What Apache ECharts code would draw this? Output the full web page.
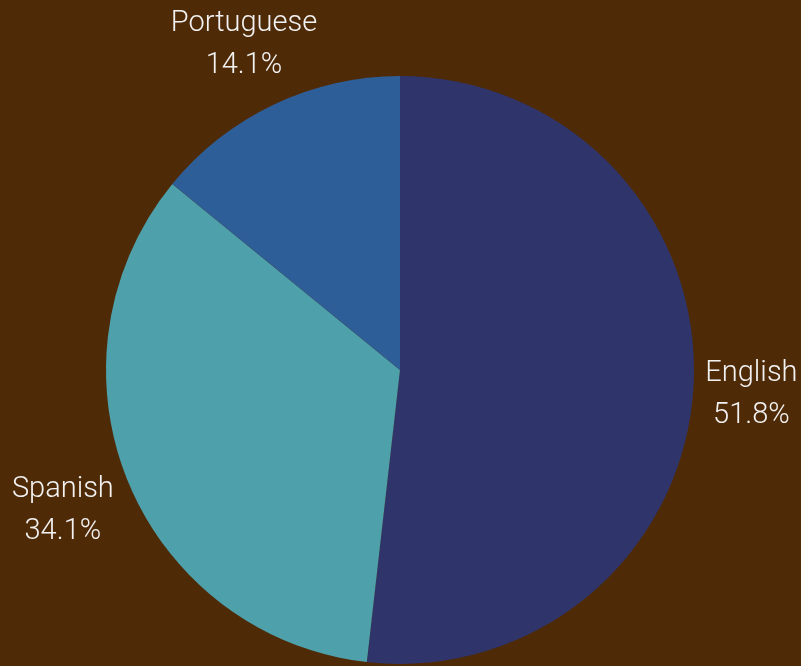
<!DOCTYPE html>
<html>
<head>
<meta charset="utf-8">
<script src="https://cdn.jsdelivr.net/npm/echarts@6/dist/echarts.min.js"></script>
<style>
  html, body { margin: 0; padding: 0; background: #4F2A07; }
  #chart { width: 801px; height: 666px; }
</style>
</head>
<body>
<div id="chart"></div>
<script>
// Language share of speakers
const languages = ['English', 'Spanish', 'Portuguese'];
const shares = [51.8, 34.1, 14.1];
const sliceColors = ['#2F356B', '#4EA0AB', '#2E5E98'];

const pieData = languages.map((name, i) => ({ name, value: shares[i] }));

// per-label nudges so the centred text sits just clear of the rim
const labelPadding = {
  English: [0, 24, 0, 0],
  Spanish: [0, 0, 0, 0],
  Portuguese: [0, 0, 0, 0]
};

const chart = echarts.init(document.getElementById('chart'));
chart.setOption({
  backgroundColor: '#4F2A07',
  animation: false,
  color: sliceColors,
  series: [
    {
      type: 'pie',
      center: [400, 370],
      radius: [0, 294],
      startAngle: 90,
      clockwise: true,
      data: pieData,
      label: { show: false },
      labelLine: { show: false },
      itemStyle: { borderWidth: 0 },
      emphasis: { disabled: true }
    },
    {
      // transparent ring that carries the centred labels outside the pie
      type: 'pie',
      center: [400, 374],
      radius: [330, 392],
      startAngle: 90,
      clockwise: true,
      silent: true,
      data: pieData.map(d => ({ ...d, label: { padding: labelPadding[d.name] } })),
      itemStyle: { color: 'rgba(0,0,0,0)' },
      labelLine: { show: false },
      label: {
        show: true,
        position: 'inside',
        formatter: (p) => p.name + '\n' + p.value.toFixed(1) + '%',
        color: '#F2F2F2',
        fontFamily: 'Roboto, Liberation Sans, Arial, sans-serif',
        fontWeight: 300,
        fontSize: 29,
        lineHeight: 42,
        align: 'center'
      },
      emphasis: { disabled: true }
    }
  ]
});
</script>
</body>
</html>
